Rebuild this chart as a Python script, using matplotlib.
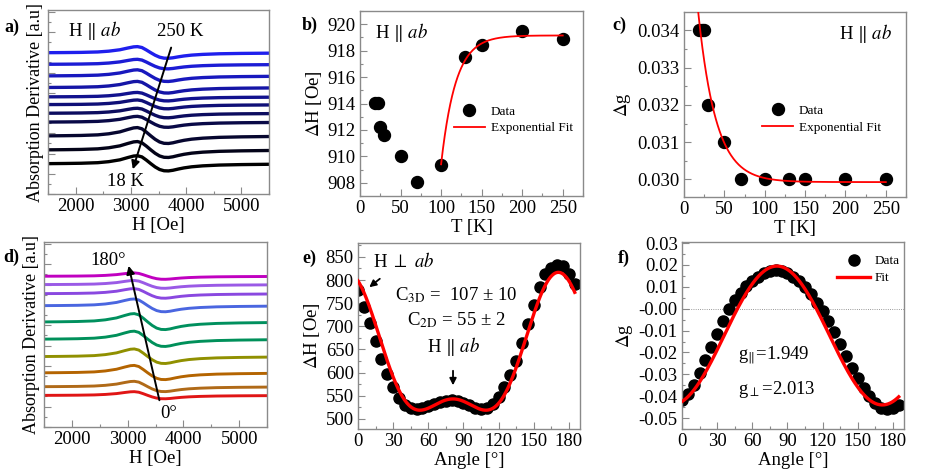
import numpy as np
import matplotlib
matplotlib.use('Agg')
import matplotlib.pyplot as plt
from matplotlib.ticker import MultipleLocator, FormatStrFormatter

plt.rcParams['font.family'] = ['Liberation Serif', 'DejaVu Serif']
plt.rcParams['mathtext.fontset'] = 'stix'
plt.rcParams['axes.unicode_minus'] = False

# ---- spectra (a, d): common line shape ----
field_H = [1500, 1800, 2100, 2400, 2600, 2800, 2950, 3050, 3120, 3200, 3280, 3360,
           3440, 3520, 3600, 3680, 3760, 3860, 3960, 4100, 4300, 4600, 5000, 5500]
line_shape = [0.0, 0.02, 0.05, 0.12, 0.25, 0.48, 0.78, 0.96, 1.0, 0.85, 0.45, 0.0,
              -0.42, -0.74, -0.9, -0.92, -0.84, -0.68, -0.54, -0.40, -0.28, -0.18, -0.12, -0.08]

# panel a: 18 K (bottom) -> 250 K (top)
temp_offsets = [0.165, 0.240, 0.316, 0.391, 0.439, 0.486, 0.528, 0.579, 0.642, 0.705, 0.768]
temp_amps = [0.043, 0.045, 0.045, 0.031, 0.027, 0.025, 0.024, 0.033, 0.033, 0.027, 0.033]

# panel d: 0 deg (bottom) -> 180 deg (top)
angle_offsets = [0.171, 0.218, 0.293, 0.381, 0.475, 0.568, 0.656, 0.721, 0.770, 0.815]
angle_amps = [0.020, 0.029, 0.040, 0.041, 0.043, 0.045, 0.036, 0.027, 0.022, 0.018]
angle_colors = ['#e01515', '#b06a18', '#b46400', '#909000', '#00905a',
                '#00905e', '#4a66e0', '#8a48e0', '#9a5ae6', '#c000c0']

# ---- panels b, c ----
T = [18, 22, 25, 30, 50, 70, 100, 130, 150, 200, 250]
dH_T = [914.05, 914.05, 912.25, 911.6, 910.0, 908.05, 909.35, 917.5, 918.45, 919.5, 918.85]
dg_T = [0.0340, 0.0340, 0.0340, 0.0320, 0.0310, 0.0300, 0.0300, 0.0300, 0.0300, 0.0300, 0.0300]
# exponential fit parameters
b_fit_plateau, b_fit_amp, b_fit_t0, b_fit_tau = 919.15, 9.75, 100.0, 18.0
c_fit_plateau, c_fit_amp, c_fit_tau = 0.02993, 0.01015, 22.0

# ---- panels e, f ----
angles = np.arange(0, 186, 5)
dH_angle = [778, 742, 708, 668, 630, 597, 568, 545, 530, 523, 521, 523, 527, 532, 536, 539,
            540, 539, 535, 530, 524, 521, 524, 533, 548, 568, 594, 626, 664, 705, 746, 785,
            812, 827, 833, 830, 814, 792]
dg_angle = [-0.0418, -0.0390, -0.0350, -0.0295, -0.0235, -0.0175, -0.0115, -0.0055, -0.0003,
            0.0038, 0.0072, 0.0102, 0.0128, 0.0147, 0.0162, 0.0172, 0.0176, 0.0172, 0.0162,
            0.0147, 0.0125, 0.0098, 0.0065, 0.0028, -0.0012, -0.0058, -0.0108, -0.0162,
            -0.0218, -0.0270, -0.0318, -0.0362, -0.0400, -0.0430, -0.0452, -0.0458, -0.0452,
            -0.0438]
e_fit = dict(a=512.2, b=27.2, c=30.8, k=4.0, theta0=171.0)
f_fit = dict(A=0.0195, B=-0.0635, theta0=171.0)

fig = plt.figure(figsize=(9.52, 4.76), dpi=100)
W, Hh = 952.0, 476.0


def box(l, t, r, b):
    return [l / W, 1 - b / Hh, (r - l) / W, (b - t) / Hh]


def style(ax):
    for s in ax.spines.values():
        s.set_color('#8a8a8a')
        s.set_linewidth(1.0)
    ax.tick_params(which='both', direction='in', colors='#8a8a8a', labelcolor='black',
                   labelsize=13.5, top=False, right=False, pad=3)
    ax.tick_params(which='major', length=5, width=0.8)
    ax.tick_params(which='minor', length=2.5, width=0.8)


FS = 13.5
par = r'H $\Vert$ $ab$'

# ---------------- a ----------------
ax = fig.add_axes(box(48, 10, 269, 194))
style(ax)
shape = np.array(line_shape)
n = len(temp_offsets)
for i, (off, amp) in enumerate(zip(temp_offsets, temp_amps)):
    t = i / (n - 1)
    ax.plot(field_H, off + amp * shape, color=(0.12 * t, 0.12 * t, 0.93 * t), lw=2.4,
            solid_capstyle='butt')
ax.set_xlim(1500, 5500)
ax.set_ylim(0, 1)
ax.xaxis.set_major_locator(MultipleLocator(1000))
ax.xaxis.set_minor_locator(MultipleLocator(500))
ax.yaxis.set_major_locator(MultipleLocator(0.11))
ax.yaxis.set_minor_locator(MultipleLocator(0.055))
ax.tick_params(labelleft=False)
ax.set_xlabel('H [Oe]', fontsize=FS, labelpad=1)
ax.set_ylabel('Absorption Derivative [a.u]', fontsize=13, labelpad=0)
ax.text(1862, 0.889, par, fontsize=FS, va='center')
ax.text(3473, 0.883, '250 K', fontsize=FS, va='center')
ax.text(2568, 0.068, '18 K', fontsize=FS, va='center')
ax.annotate('', xy=(3020, 0.12), xytext=(3744, 0.81),
            arrowprops=dict(arrowstyle='-|>', color='k', lw=1.4, mutation_scale=12))

# ---------------- b ----------------
ax = fig.add_axes(box(360, 11, 583, 196))
style(ax)
ax.plot(T, dH_T, 'o', color='k', ms=8.6, label='Data', zorder=2)
Tf = np.linspace(b_fit_t0, 250, 200)
ax.plot(Tf, b_fit_plateau - b_fit_amp * np.exp(-(Tf - b_fit_t0) / b_fit_tau), color='#ff0000',
        lw=1.3, label='Exponential Fit', zorder=3)
ax.set_xlim(0, 275)
ax.set_ylim(907, 921)
ax.xaxis.set_major_locator(MultipleLocator(50))
ax.xaxis.set_minor_locator(MultipleLocator(25))
ax.yaxis.set_major_locator(MultipleLocator(2))
ax.yaxis.set_minor_locator(MultipleLocator(1))
ax.set_xlabel('T [K]', fontsize=FS, labelpad=1)
ax.set_ylabel(r'$\Delta$H [Oe]', fontsize=FS, labelpad=3)
ax.text(0.067, 0.884, par, fontsize=FS, va='center', transform=ax.transAxes)
ax.legend(frameon=False, fontsize=9.5, loc='upper left', bbox_to_anchor=(0.42, 0.49),
          borderpad=0, borderaxespad=0, handlelength=2.4, handletextpad=0.4, labelspacing=0.35)

# ---------------- c ----------------
ax = fig.add_axes(box(684, 12, 906, 197))
style(ax)
ax.plot(T, dg_T, 'o', color='k', ms=8.6, label='Data', zorder=2)
Tf = np.linspace(15, 250, 300)
ax.plot(Tf, c_fit_plateau + c_fit_amp * np.exp(-Tf / c_fit_tau), color='#ff0000', lw=1.3,
        label='Exponential Fit', zorder=3)
ax.set_xlim(0, 275)
ax.set_ylim(0.02953, 0.03449)
ax.xaxis.set_major_locator(MultipleLocator(50))
ax.xaxis.set_minor_locator(MultipleLocator(25))
ax.yaxis.set_major_locator(MultipleLocator(0.001))
ax.yaxis.set_minor_locator(MultipleLocator(0.0005))
ax.yaxis.set_major_formatter(FormatStrFormatter('%.3f'))
ax.set_xlabel('T [K]', fontsize=FS, labelpad=1)
ax.set_ylabel(r'$\Delta$g', fontsize=FS, labelpad=3)
ax.text(0.937, 0.884, par, fontsize=FS, va='center', ha='right', transform=ax.transAxes)
ax.legend(frameon=False, fontsize=9.5, loc='upper left', bbox_to_anchor=(0.35, 0.5),
          borderpad=0, borderaxespad=0, handlelength=2.4, handletextpad=0.4, labelspacing=0.35)

# ---------------- d ----------------
ax = fig.add_axes(box(44, 242, 267, 427))
style(ax)
for off, amp, col in zip(angle_offsets, angle_amps, angle_colors):
    ax.plot(field_H, off + amp * shape, color=col, lw=2.1)
ax.set_xlim(1500, 5500)
ax.set_ylim(0, 1)
ax.xaxis.set_major_locator(MultipleLocator(1000))
ax.xaxis.set_minor_locator(MultipleLocator(500))
ax.yaxis.set_major_locator(MultipleLocator(0.11))
ax.yaxis.set_minor_locator(MultipleLocator(0.055))
ax.tick_params(labelleft=False)
ax.set_xlabel('H [Oe]', fontsize=FS, labelpad=1)
ax.set_ylabel('Absorption Derivative [a.u]', fontsize=13, labelpad=0)
ax.text(2325, 0.9, '180°', fontsize=FS, va='center')
ax.text(3581, 0.073, '0°', fontsize=FS, va='center')
ax.annotate('', xy=(3007, 0.886), xytext=(3581, 0.13),
            arrowprops=dict(arrowstyle='-|>', color='k', lw=1.4, mutation_scale=12))

# ---------------- e ----------------
ax = fig.add_axes(box(358, 243, 580, 429))
style(ax)
ax.plot(angles, dH_angle, 'o', color='k', ms=8, zorder=2)
th = np.linspace(0, 185, 400)
c2 = np.cos(np.radians(th - e_fit['theta0'])) ** 2
ax.plot(th, e_fit['a'] + e_fit['b'] * c2 + e_fit['c'] * (e_fit['k'] * c2 - 1) ** 2,
        color='#ff0000', lw=2.4, zorder=3)
ax.set_xlim(0, 189.5)
ax.set_ylim(478, 880)
ax.xaxis.set_major_locator(MultipleLocator(30))
ax.xaxis.set_minor_locator(MultipleLocator(15))
ax.yaxis.set_major_locator(MultipleLocator(50))
ax.yaxis.set_minor_locator(MultipleLocator(25))
ax.set_xlabel('Angle [°]', fontsize=FS, labelpad=1)
ax.set_ylabel(r'$\Delta$H [Oe]', fontsize=FS, labelpad=3)
ax.text(0.068, 0.903, r'H $\perp$ $ab$', fontsize=FS, va='center', transform=ax.transAxes)
ax.annotate('', xy=(0.041, 0.753), xytext=(0.108, 0.817), xycoords='axes fraction',
            arrowprops=dict(arrowstyle='-|>', color='k', lw=1.3, mutation_scale=10))
ax.text(0.441, 0.718, r'C$_{\rm 3D}$ =  107 ± 10', fontsize=FS, va='center', ha='center',
        transform=ax.transAxes)
ax.text(0.441, 0.583, r'C$_{\rm 2D}$ = 55 ± 2', fontsize=FS, va='center', ha='center',
        transform=ax.transAxes)
ax.text(0.432, 0.444, par, fontsize=FS, va='center', ha='center', transform=ax.transAxes)
ax.annotate('', xy=(0.428, 0.22), xytext=(0.428, 0.328), xycoords='axes fraction',
            arrowprops=dict(arrowstyle='-|>', color='k', lw=1.3, mutation_scale=10))

# ---------------- f ----------------
ax = fig.add_axes(box(682, 242, 904, 429))
style(ax)
ax.axhline(0, color='#777777', lw=0.6, ls=':', zorder=1)
ax.plot(angles, dg_angle, 'o', color='k', ms=8, label='Data', zorder=2)
ax.plot(th, f_fit['A'] + f_fit['B'] * np.cos(np.radians(th - f_fit['theta0'])) ** 2,
        color='#ff0000', lw=2.4, label='Fit', zorder=3)
ax.set_xlim(0, 189.5)
ax.set_ylim(-0.055, 0.0305)
ax.xaxis.set_major_locator(MultipleLocator(30))
ax.xaxis.set_minor_locator(MultipleLocator(15))
ax.yaxis.set_major_locator(MultipleLocator(0.01))
ax.yaxis.set_minor_locator(MultipleLocator(0.005))
ax.yaxis.set_major_formatter(FormatStrFormatter('%.2f'))
ax.set_xlabel('Angle [°]', fontsize=FS, labelpad=1)
ax.set_ylabel(r'$\Delta$g', fontsize=FS, labelpad=3)
ax.text(0.252, 0.396, r'g$_{\Vert}$=1.949', fontsize=FS, va='center', transform=ax.transAxes)
ax.text(0.252, 0.209, r'g$_{\perp}$=2.013', fontsize=FS, va='center', transform=ax.transAxes)
ax.legend(frameon=False, fontsize=9.5, loc='upper left', bbox_to_anchor=(0.70, 0.93),
          borderpad=0, borderaxespad=0, handlelength=2.5, handletextpad=0.3, labelspacing=0.35)

# panel letters
for lab, x, y in [('a)', 4, 27), ('b)', 302, 25), ('c)', 612, 25),
                  ('d)', 3, 257), ('e)', 302, 258), ('f)', 618, 258)]:
    fig.text(x / W, 1 - y / Hh, lab, fontsize=13, fontweight='bold', va='center')

fig.savefig('out.png', dpi=100)
